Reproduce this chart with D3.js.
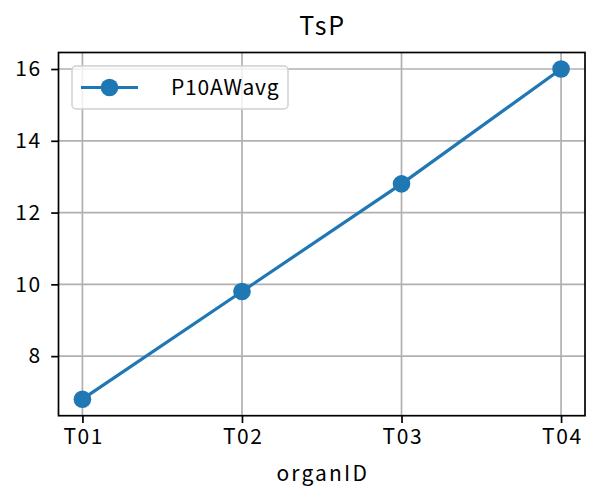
<!DOCTYPE html>
<html><head><meta charset="utf-8">
<script src="https://cdn.jsdelivr.net/npm/d3@7"></script>
<style>body{margin:0;background:#fff}svg{display:block}text{font-family:"Noto Sans CJK SC","DejaVu Sans",sans-serif;fill:#000}</style>
</head><body>
<script>
const categories = ["T01","T02","T03","T04"];
const values = [6.8, 9.8, 12.8, 16.0];
const yTicks = [8,10,12,14,16];
const title = "TsP";
const xLabel = "organID";
const seriesName = "P10AWavg";

const FONT='"Noto Sans CJK SC","DejaVu Sans",sans-serif';
const LS="1.6px";
const W=589,H=502;
const L=58.5,R=585,T=52.5,B=415.7;
const svg=d3.select("body").append("svg").attr("width",W).attr("height",H);
const x=d3.scaleLinear().domain([-0.15,3.15]).range([L,R]);
const ymin=d3.min(values), ymax=d3.max(values), m=(ymax-ymin)*0.05;
const y=d3.scaleLinear().domain([ymin-m,ymax+m]).range([B,T]);

// grid
const g=svg.append("g");
g.selectAll(".gx").data(categories).enter().append("line")
 .attr("x1",(d,i)=>x(i)).attr("x2",(d,i)=>x(i)).attr("y1",T).attr("y2",B)
 .attr("stroke","#b0b0b0").attr("stroke-width",1.7);
g.selectAll(".gy").data(yTicks).enter().append("line")
 .attr("x1",L).attr("x2",R).attr("y1",d=>y(d)).attr("y2",d=>y(d))
 .attr("stroke","#b0b0b0").attr("stroke-width",1.7);

// axes
const xAxis=d3.axisBottom(x).tickValues(d3.range(categories.length)).tickFormat(i=>categories[i]).tickSize(7.3).tickPadding(6).tickSizeOuter(0);
const yAxis=d3.axisLeft(y).tickValues(yTicks).tickSize(7.3).tickPadding(11).tickSizeOuter(0);
const gx=svg.append("g").attr("transform",`translate(0,${B})`).call(xAxis);
const gy=svg.append("g").attr("transform",`translate(${L},0)`).call(yAxis);
[gx,gy].forEach(a=>{a.select(".domain").remove();a.selectAll(".tick line").attr("stroke","#000").attr("stroke-width",1.7);
 a.selectAll(".tick text").style("font-size","21px").style("letter-spacing",LS).attr("font-family",FONT);});
gx.selectAll(".tick text").attr("dx","0.8px");
gy.selectAll(".tick text").attr("dx","1.6px");

// line
const line=d3.line().x((d,i)=>x(i)).y(d=>y(d));
svg.append("path").datum(values).attr("d",line).attr("fill","none").attr("stroke","#1f77b4").attr("stroke-width",3.2);
svg.selectAll(".pt").data(values).enter().append("circle")
 .attr("cx",(d,i)=>x(i)).attr("cy",d=>y(d)).attr("r",8.8).attr("fill","#1f77b4");

// frame
svg.append("rect").attr("x",L).attr("y",T).attr("width",R-L).attr("height",B-T)
 .attr("fill","none").attr("stroke","#000").attr("stroke-width",1.7);

// title & label
svg.append("text").attr("x",(L+R)/2+1).attr("y",35).attr("text-anchor","middle").style("font-size","25px").style("letter-spacing","2px").text(title);
svg.append("text").attr("x",(L+R)/2+1).attr("y",481).attr("text-anchor","middle").style("font-size","21px").style("letter-spacing","2.2px").text(xLabel);

// legend
const lg=svg.append("g");
lg.append("rect").attr("x",72).attr("y",66).attr("width",216).attr("height",43).attr("rx",4)
 .attr("fill","#fff").attr("fill-opacity",0.8).attr("stroke","#d0d0d0").attr("stroke-width",1.5);
lg.append("line").attr("x1",81).attr("x2",138).attr("y1",87.5).attr("y2",87.5).attr("stroke","#1f77b4").attr("stroke-width",3.2);
lg.append("circle").attr("cx",109.5).attr("cy",87.5).attr("r",8.8).attr("fill","#1f77b4");
lg.append("text").attr("x",171).attr("y",95).style("font-size","21px").style("letter-spacing","0.8px").text(seriesName);
</script>
</body></html>
